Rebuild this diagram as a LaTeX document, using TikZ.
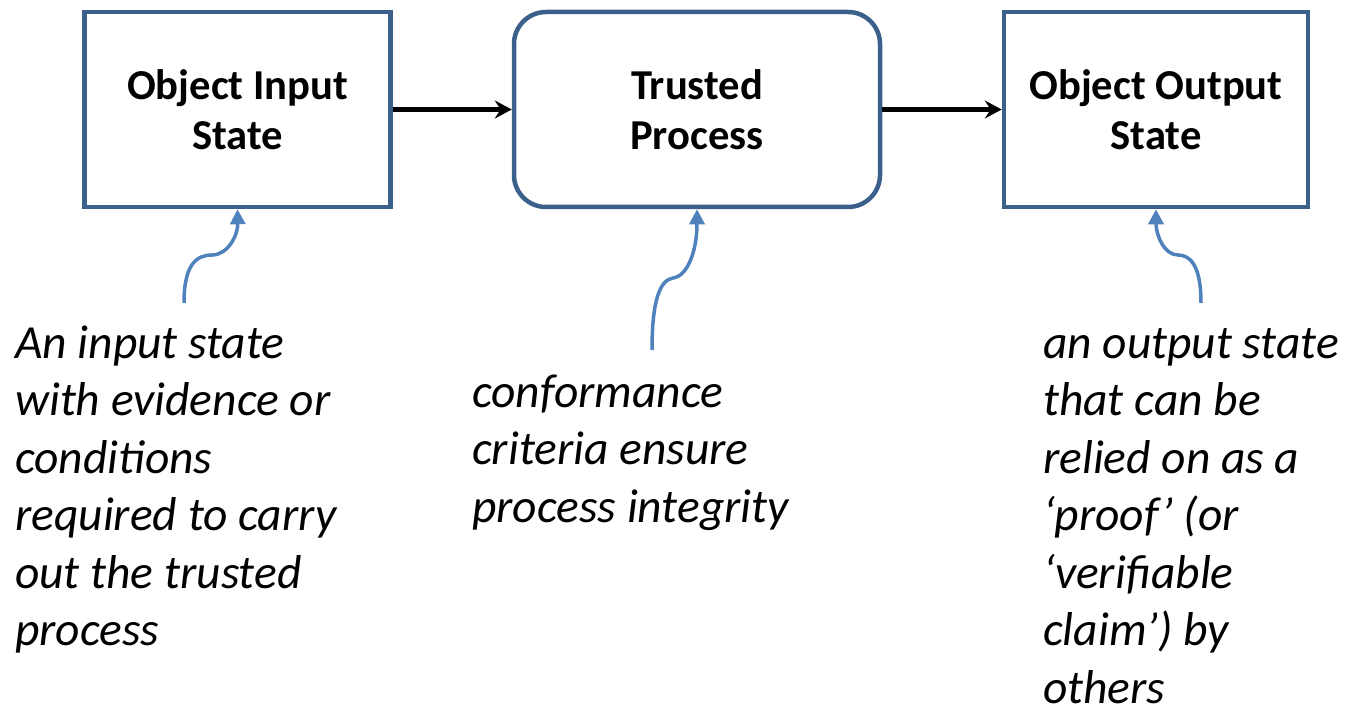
\documentclass[tikz,border=0pt]{standalone}
\usepackage{fontspec}
\setmainfont{Carlito}
\usetikzlibrary{arrows.meta}
\definecolor{boxblue}{RGB}{60,96,140}
\definecolor{noteblue}{RGB}{79,129,189}
\begin{document}
\begin{tikzpicture}[x=1pt, y=-1pt,
	state/.style={draw=boxblue, line width=4.5pt, minimum height=195pt, align=center, font=\bfseries\fontsize{42.6}{50}\selectfont},
	flow/.style={-{Stealth[length=17pt,width=18pt,inset=6pt]}, line width=5pt},
	callout/.style={-{Triangle[length=15pt,width=15pt]}, draw=noteblue, line width=3.5pt},
	note/.style={inner sep=0pt, align=left, anchor=base west, font=\itshape\fontsize{47.5}{57.5}\selectfont}]
	\useasboundingbox (0,0) rectangle (1345,706);

	\node [state, minimum width=306pt] (in) at (237.5,109.5) {Object Input\\State};
	\node [state, minimum width=366pt, rounded corners=32pt] (tp) at (697,109.5) {Trusted\\Process};
	\node [state, minimum width=304pt] (out) at (1156,109.5) {Object Output\\State};

	\draw [flow] (in) -- (tp);
	\draw [flow] (tp) -- (out);

	\node [note] (innote) at (15,645.5) {An input state\\with evidence or\\conditions\\required to carry\\out the trusted\\process};
	\node [note] (tpnote) at (472,522) {conformance\\criteria ensure\\process integrity};
	\node [note] (outnote) at (1043,703) {an output state\\that can be\\relied on as a\\‘proof’ (or\\‘verifiable\\claim’) by\\others};

	\coordinate (c1) at (184,303);
	\coordinate (c2) at (652,350);
	\coordinate (c3) at (1201,303);

	\draw [callout] (c1) .. controls (184,265) and (196,255) .. (212,255)
		.. controls (228,255) and (238,235) .. (in.south);
	\draw [callout] (c2) .. controls (652,300) and (660,280) .. (673,278)
		.. controls (688,276) and (697,250) .. (tp.south);
	\draw [callout] (c3) .. controls (1201,265) and (1190,255) .. (1178,255)
		.. controls (1164,255) and (1156,235) .. (out.south);
\end{tikzpicture}
\end{document}
